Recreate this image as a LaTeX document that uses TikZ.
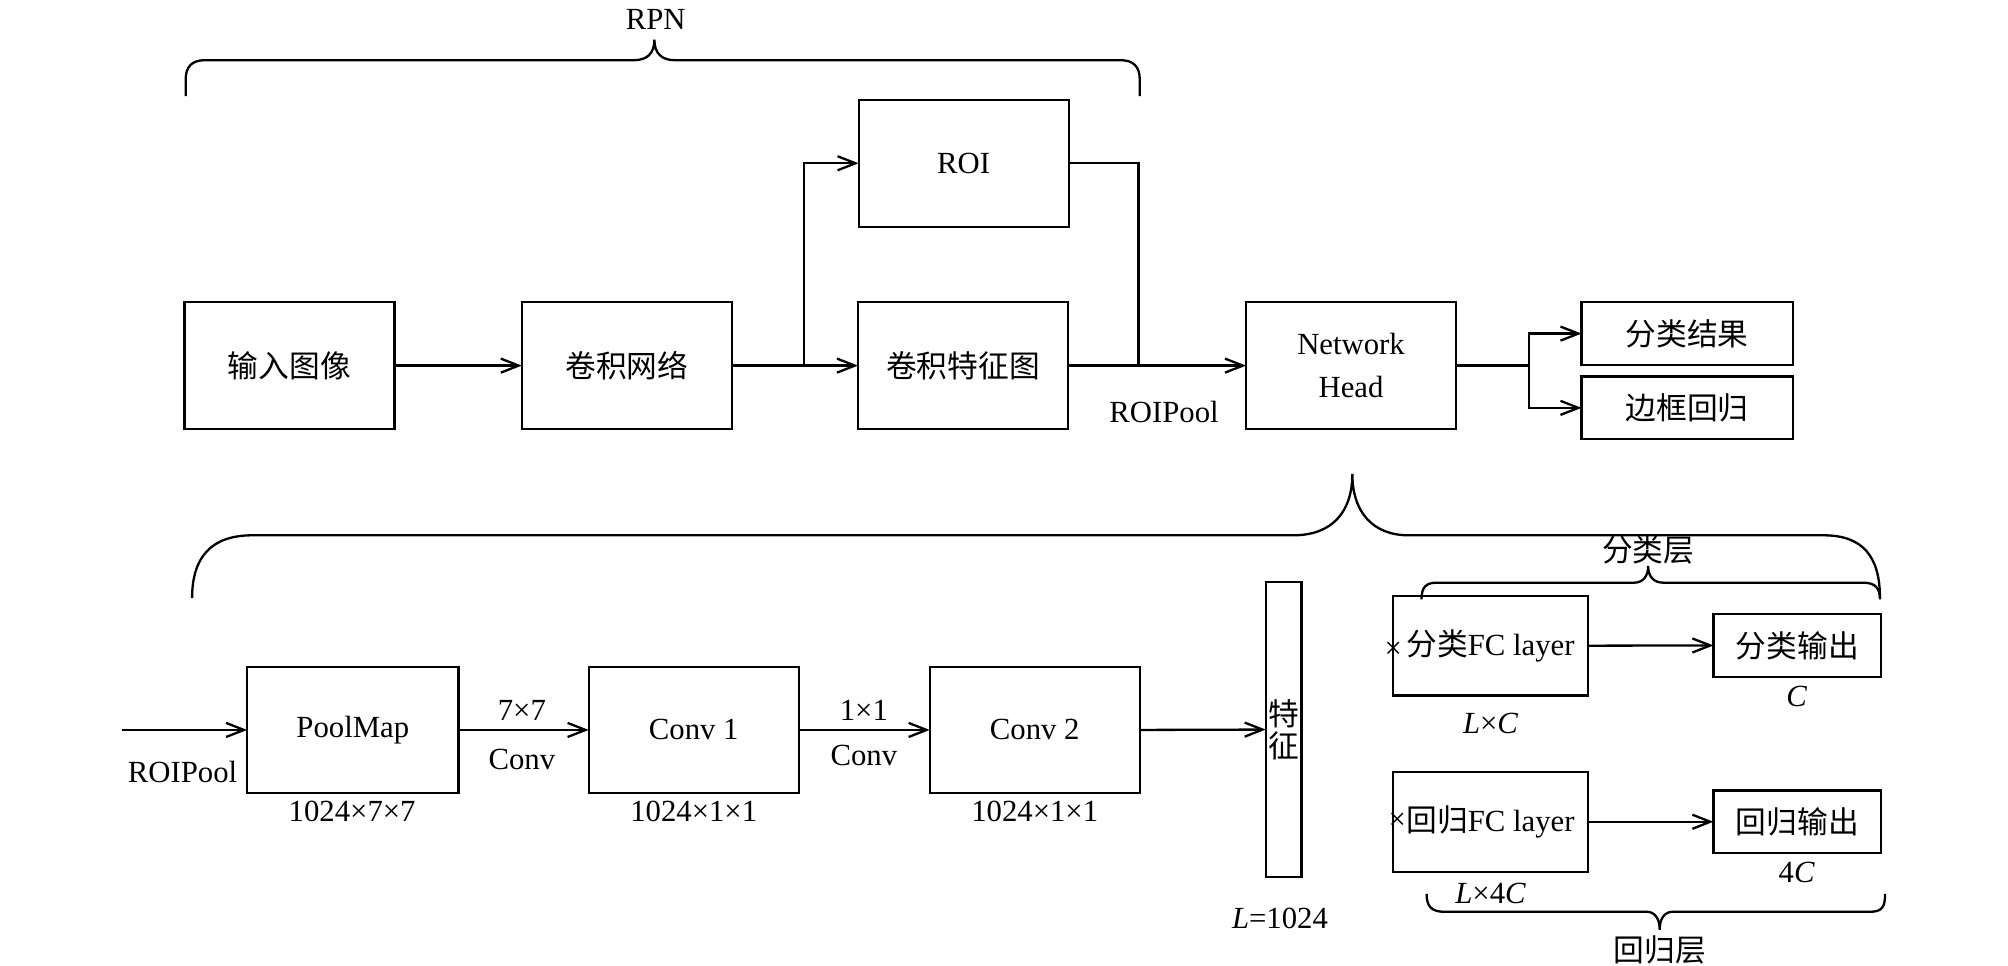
\documentclass[tikz,border=0pt]{standalone}
\usepackage{fontspec}
\setmainfont{Liberation Serif}
\newfontfamily\cjk{Noto Sans CJK SC}
\usetikzlibrary{arrows.meta}
\begin{document}
\begin{tikzpicture}[x=0.5pt,y=-0.5pt, line width=0.9pt,
  box/.style={draw, rectangle, inner sep=0pt, outer sep=0pt, align=center, font=\fontsize{12}{16.5}\selectfont},
  arr/.style={-{Straight Barb[length=7pt,width=5.5pt]}},
  lbl/.style={inner sep=0pt, font=\fontsize{12}{14}\selectfont},
  tiny/.style={inner sep=0pt, font=\fontsize{12}{13}\selectfont}]
\useasboundingbox (0,0) rectangle (1568,754);

% ---------- top row ----------
\node[box, minimum width=82pt, minimum height=49.5pt] (in)  at (226,285.5) {\cjk 输入图像};
\node[box, minimum width=82pt, minimum height=49.5pt] (cnn) at (489.5,285.5) {\cjk 卷积网络};
\node[box, minimum width=82pt, minimum height=49.5pt] (cfm) at (752,285.5) {\cjk 卷积特征图};
\node[box, minimum width=82pt, minimum height=49.5pt] (roi) at (752.5,127.5) {ROI};
\node[box, minimum width=82pt, minimum height=49.5pt] (nh)  at (1055,285.5) {Network\\Head};
\node[box, minimum width=82.5pt, minimum height=24.5pt] (cls) at (1317.5,260.5) {\cjk 分类结果};
\node[box, minimum width=82.5pt, minimum height=24.5pt] (reg) at (1317.5,318.5) {\cjk 边框回归};

\coordinate (j1) at (628,285.5);
\coordinate (j2) at (889,285.5);
\coordinate (j3) at (1194,285.5);
\draw[arr] (in.east) -- (cnn.west);
\draw[arr] (cnn.east) -- (cfm.west);
\draw[arr] (j1) |- (roi.west);
\draw (roi.east) -| (j2);
\draw[arr] (cfm.east) -- (nh.west);
\draw (nh.east) -- (j3);
\draw[arr] (j3) |- (cls.west);
\draw[arr] (j3) |- (reg.west);

\node[lbl] (roipoolA) at (909,321.5) {ROIPool};
\node[lbl] (rpn) at (512,15) {RPN};

% RPN brace
\draw (145,75) -- (145,62) .. controls (145,52) and (150,47) .. (160,47) -- (495,47)
  .. controls (505,47) and (511,42) .. (511,31)
  .. controls (511,42) and (517,47) .. (527,47) -- (875,47)
  .. controls (885,47) and (890,52) .. (890,62) -- (890,75);

% big brace
\draw (150,467) .. controls (150,435) and (165,418) .. (197,418) -- (1010,418)
  .. controls (1040,418) and (1056,400) .. (1056,370)
  .. controls (1056,400) and (1072,418) .. (1100,418) -- (1424,418)
  .. controls (1455,418) and (1468,435) .. (1468,467);

% ---------- bottom row ----------
\node[box, minimum width=82.5pt, minimum height=49.25pt] (pool) at (275.5,570) {PoolMap};
\node[box, minimum width=82pt, minimum height=49.25pt] (c1) at (541.7,570) {Conv 1};
\node[box, minimum width=82pt, minimum height=49.25pt] (c2) at (808,570) {Conv 2};
\node[box, minimum width=14pt, minimum height=115pt, font=\cjk\fontsize{12}{12.5}\selectfont] (feat) at (1002.4,569.7) {特\\征};

\coordinate (s) at (95,570);
\draw[arr] (s) -- (pool.west);
\draw[arr] (pool.east) -- (c1.west);
\draw[arr] (c1.east) -- (c2.west);
\draw[arr] (c2.east) -- (feat.west);

\node[lbl] (roipoolB) at (142.6,602.6) {ROIPool};
\node[lbl] (k7) at (407.5,555) {7×7};
\node[lbl] (cv1) at (407.5,593) {Conv};
\node[lbl] (k1) at (674.6,554.4) {1×1};
\node[lbl] (cv2) at (674.6,589.6) {Conv};
\node[lbl] (d1) at (275,634) {1024×7×7};
\node[lbl] (d2) at (541.7,634) {1024×1×1};
\node[lbl] (d3) at (808,634) {1024×1×1};
\node[lbl] (dl) at (999.5,717) {\textit{L}=1024};

\node[box, minimum width=76pt, minimum height=39pt] (fc1) at (1163.9,504.2) {{\cjk 分类}FC layer};
\node[box, minimum width=76pt, minimum height=39pt] (fc2) at (1163.9,641.7) {{\cjk 回归}FC layer};
\node[box, minimum width=65.5pt, minimum height=24.5pt] (o1) at (1403.5,504) {\cjk 分类输出};
\node[box, minimum width=65.5pt, minimum height=24.5pt] (o2) at (1403.5,641.7) {\cjk 回归输出};
\node[tiny] (x1) at (1088,508) {×};
\node[tiny] (x2) at (1091,641) {×};
\draw[arr] (fc1.east) -- (o1.west);
\draw[arr] (fc2.east) -- (o2.west);

\node[lbl] (lc) at (1164,565) {\textit{L}×\textit{C}};
\node[lbl] (cc) at (1403,544) {\textit{C}};
\node[lbl] (l4c) at (1164,697.6) {\textit{L}×4\textit{C}};
\node[lbl] (c4) at (1403,681) {4\textit{C}};

% 分类层 brace
\draw (1110,468) .. controls (1110,458) and (1114,455) .. (1122,455) -- (1276,455)
  .. controls (1283,455) and (1287,450) .. (1287,442)
  .. controls (1287,450) and (1291,455) .. (1299,455) -- (1455,455)
  .. controls (1465,455) and (1468,460) .. (1468,468);
\node[lbl, font=\cjk\fontsize{12}{14}\selectfont] (clsl) at (1287,429.5) {分类层};

% 回归层 brace
\draw (1114,698) .. controls (1114,708) and (1118,712) .. (1128,712) -- (1286,712)
  .. controls (1292,712) and (1296,717) .. (1296,726)
  .. controls (1296,717) and (1300,712) .. (1306,712) -- (1460,712)
  .. controls (1470,712) and (1472,708) .. (1472,698);
\node[lbl, font=\cjk\fontsize{12}{14}\selectfont] (regl) at (1296,742) {回归层};
\end{tikzpicture}
\end{document}
